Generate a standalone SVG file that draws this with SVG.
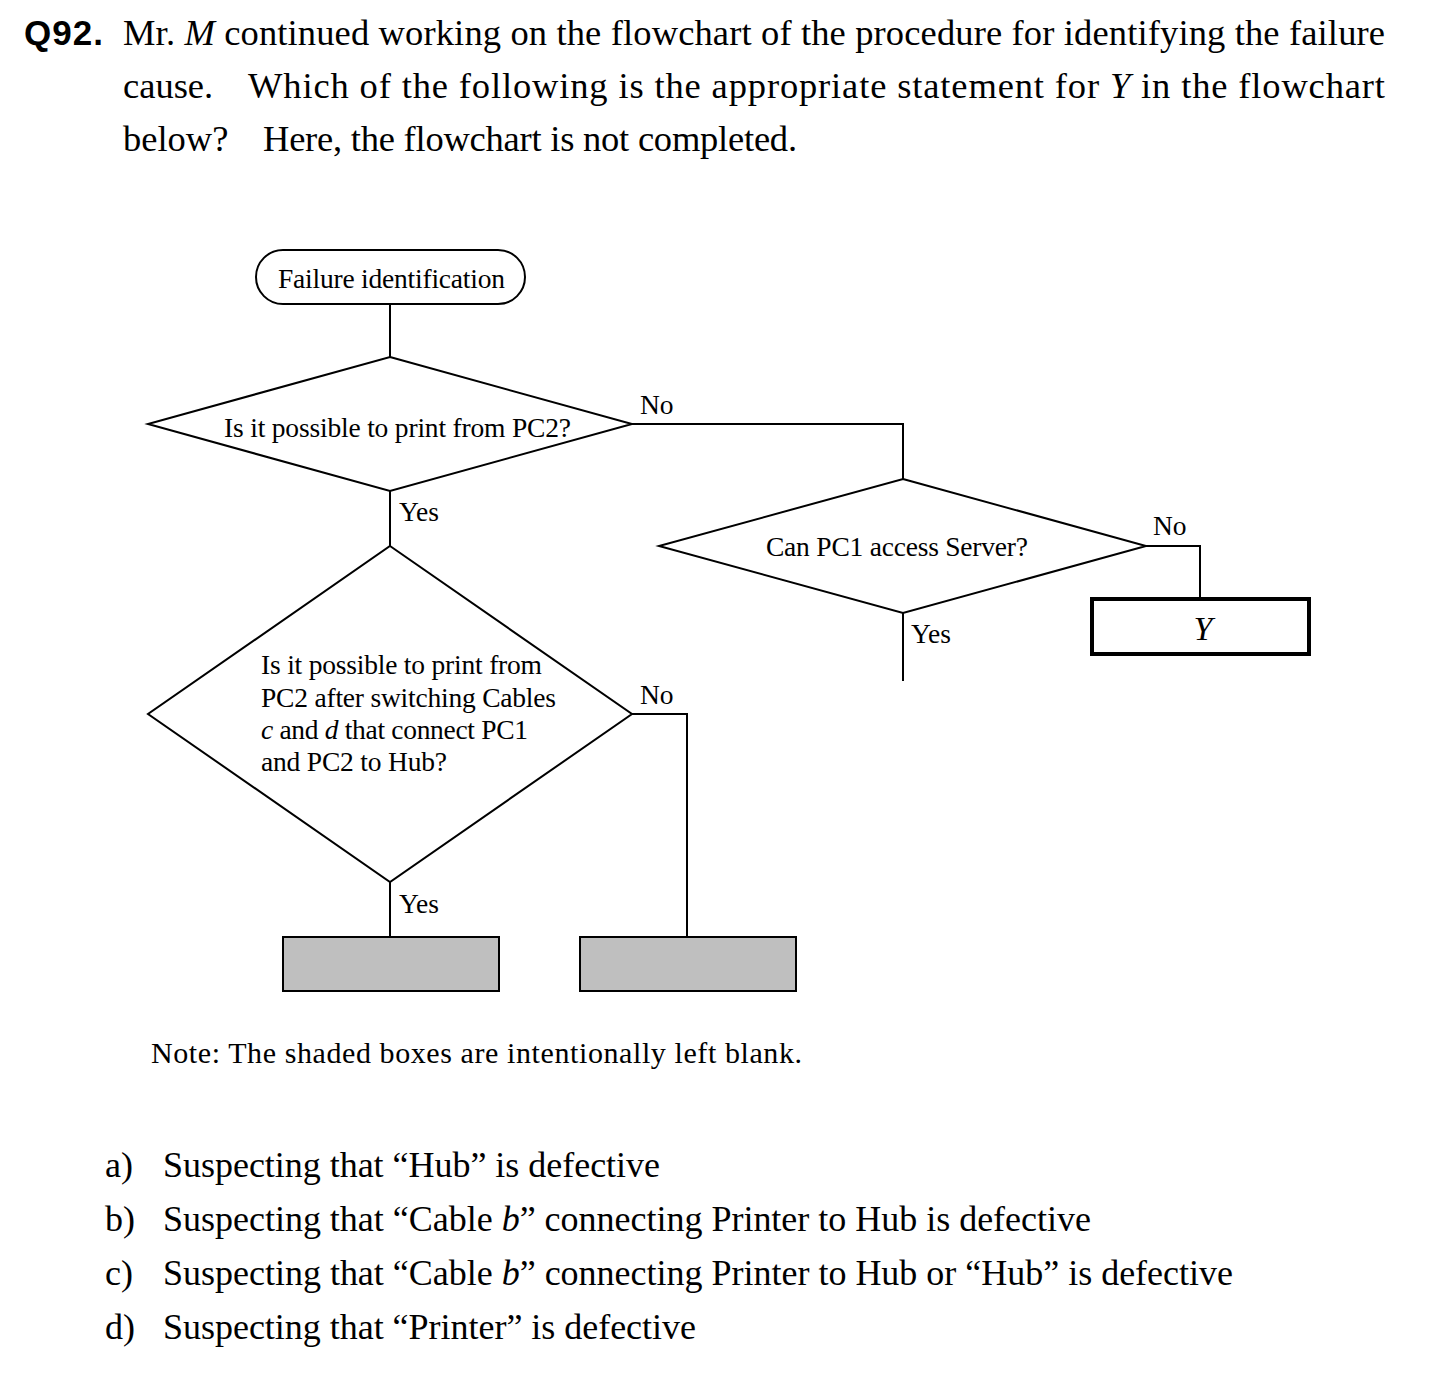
<svg xmlns="http://www.w3.org/2000/svg" width="1450" height="1376" viewBox="0 0 1450 1376">
<style>
.t{font-family:"Liberation Serif","Times New Roman",serif;fill:#000}
.q{font-size:36.5px}
.o{font-size:36px}
.f{font-size:27.5px}
.n{font-size:30px}
.shape{fill:#fff;stroke:#000;stroke-width:2}
.blank{fill:#bfbfbf;stroke:#000;stroke-width:2}
.conn line,.conn polyline{fill:none;stroke:#000;stroke-width:2}
</style>
<rect width="1450" height="1376" fill="#fff"/>
<g id="question">
<text x="24" y="45" style="font-family:'Liberation Sans',Arial,sans-serif;font-weight:bold;font-size:35px" textLength="79">Q92.</text>
<text class="t q" x="123" y="45" textLength="1262">Mr. <tspan font-style="italic">M</tspan> continued working on the flowchart of the procedure for identifying the failure</text>
<text class="t q" x="123" y="98">cause.</text>
<text class="t q" x="248" y="98" textLength="1137">Which of the following is the appropriate statement for <tspan font-style="italic">Y</tspan> in the flowchart</text>
<text class="t q" x="123" y="151">below?</text>
<text class="t q" x="263" y="151" textLength="534">Here, the flowchart is not completed.</text>
</g>
<g class="conn" id="connectors">
<line x1="390" y1="304" x2="390" y2="357"/>
<polyline points="632,424 903,424 903,479"/>
<line x1="390" y1="491" x2="390" y2="546"/>
<polyline points="1146,546 1200,546 1200,598"/>
<line x1="903" y1="613" x2="903" y2="681"/>
<polyline points="632,714 687,714 687,937"/>
<line x1="390" y1="882" x2="390" y2="937"/>
</g>
<g id="labels">
<text class="t f" x="640" y="414">No</text>
<text class="t f" x="399" y="521">Yes</text>
<text class="t f" x="1153" y="535">No</text>
<text class="t f" x="911" y="643">Yes</text>
<text class="t f" x="640" y="704">No</text>
<text class="t f" x="399" y="913">Yes</text>
</g>
<g id="start">
<rect class="shape" x="256" y="250" width="269" height="54" rx="27" ry="27"/>
<text class="t f" x="278" y="288" textLength="227">Failure identification</text>
</g>
<g id="decision1">
<polygon class="shape" points="390,357 632,424 390,491 148,424"/>
<text class="t f" x="224" y="437" textLength="347">Is it possible to print from PC2?</text>
</g>
<g id="decision2">
<polygon class="shape" points="903,479 1146,546 903,613 659,546"/>
<text class="t f" x="766" y="556" textLength="262">Can PC1 access Server?</text>
</g>
<g id="boxY">
<rect x="1092" y="599" width="217" height="55" fill="#fff" stroke="#000" stroke-width="4"/>
<text class="t" x="1203" y="640" text-anchor="middle" font-style="italic" font-size="34">Y</text>
</g>
<g id="decision3">
<polygon class="shape" points="390,546 632,714 390,882 148,714"/>
<text class="t f" x="261" y="674" textLength="281">Is it possible to print from</text>
<text class="t f" x="261" y="707" textLength="295">PC2 after switching Cables</text>
<text class="t f" x="261" y="739" textLength="267"><tspan font-style="italic">c</tspan> and <tspan font-style="italic">d</tspan> that connect PC1</text>
<text class="t f" x="261" y="771" textLength="186">and PC2 to Hub?</text>
</g>
<g id="blank1">
<rect class="blank" x="283" y="937" width="216" height="54"/>
</g>
<g id="blank2">
<rect class="blank" x="580" y="937" width="216" height="54"/>
</g>
<g id="note">
<text class="t n" x="151" y="1063" textLength="651">Note: The shaded boxes are intentionally left blank.</text>
</g>
<g id="options">
<text class="t o" x="105" y="1177">a)</text>
<text class="t o" x="163" y="1177" textLength="497">Suspecting that “Hub” is defective</text>
<text class="t o" x="105" y="1231">b)</text>
<text class="t o" x="163" y="1231" textLength="928">Suspecting that “Cable <tspan font-style="italic">b</tspan>” connecting Printer to Hub is defective</text>
<text class="t o" x="105" y="1285">c)</text>
<text class="t o" x="163" y="1285" textLength="1070">Suspecting that “Cable <tspan font-style="italic">b</tspan>” connecting Printer to Hub or “Hub” is defective</text>
<text class="t o" x="105" y="1339">d)</text>
<text class="t o" x="163" y="1339" textLength="533">Suspecting that “Printer” is defective</text>
</g>
</svg>
